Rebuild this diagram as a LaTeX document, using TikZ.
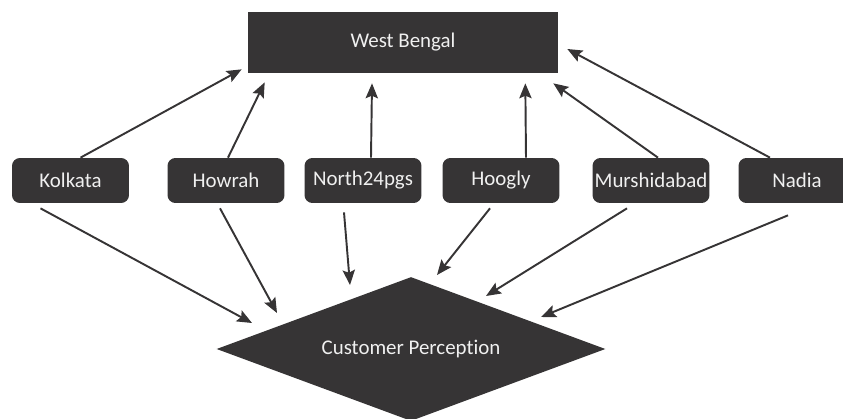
\documentclass[tikz,border=0pt]{standalone}
\usepackage{fontspec}
\setmainfont{Carlito}[Ligatures={NoCommon}]
\usetikzlibrary{calc,arrows.meta,shapes.geometric}
\definecolor{boxgray}{RGB}{54,52,53}
\definecolor{textgray}{RGB}{240,240,240}

\begin{document}
\begin{tikzpicture}[x=0.02cm,y=-0.02cm,>={Stealth[length=8.5pt,width=7pt,inset=1.5pt]},
    every node/.style={font=\fontsize{11.9}{14}\selectfont,text=textgray},
    region/.style={fill=boxgray,rectangle,minimum width=6.2cm,minimum height=1.22cm,inner sep=0pt},
    district/.style={fill=boxgray,rectangle,rounded corners=4.5pt,minimum width=2.34cm,minimum height=0.9cm,inner sep=0pt},
    outcome/.style={fill=boxgray,diamond,aspect=2.7,minimum width=7.78cm,minimum height=2.88cm,inner sep=0pt},
    link/.style={->,draw=boxgray,line width=1.1pt}]

    \clip (0,0) rectangle (843,419);

    % state
    \node (wb) at (403,42.5) [region] {West Bengal};
    % districts
    \node (kolkata) at (70.5,180.5) [district] {Kolkata};
    \node (howrah) at (226,180.5) [district] {Howrah};
    \node (north) at (363,180.5) [district] {North24pgs};
    \node (hoogly) at (501,180.5) [district] {Hoogly};
    \node (murshidabad) at (651,180.5) [district] {Murshidabad};
    \node (nadia) at (797,180.5) [district] {Nadia};
    % perception
    \node (cp) at (411,349) [outcome] {Customer Perception};

    % up to the state
    \draw[link] ($(kolkata.north)+(10,0)$) -- ($(wb.south west)+(-6,-4)$);
    \draw[link] ($(howrah.north)+(2,0)$) -- ($(wb.south west)+(17,9)$);
    \draw[link] ($(north.north)+(8,0)$) -- ($(wb.south)+(-31,10)$);
    \draw[link] ($(hoogly.north)+(25,0)$) -- ($(wb.south east)+(-33,10)$);
    \draw[link] ($(murshidabad.north)+(7,0)$) -- ($(wb.south east)+(-5,10)$);
    \draw[link] ($(nadia.north)+(-27,0)$) -- ($(wb.east)+(9,6.5)$);

    % down to the perception
    \draw[link] ($(kolkata.south)+(-30,5)$) -- ($(cp)+(-159,-26)$);
    \draw[link] ($(howrah.south)+(-6,5)$) -- ($(cp)+(-134,-36)$);
    \draw[link] ($(north.south)+(-19,9)$) -- ($(cp)+(-61,-64)$);
    \draw[link] ($(hoogly.south)+(-11,5)$) -- ($(cp)+(26,-74)$);
    \draw[link] ($(murshidabad.south)+(-24,5)$) -- ($(cp)+(75,-53)$);
    \draw[link] ($(nadia.south)+(-9,12)$) -- ($(cp)+(130,-32)$);

\end{tikzpicture}
\end{document}
